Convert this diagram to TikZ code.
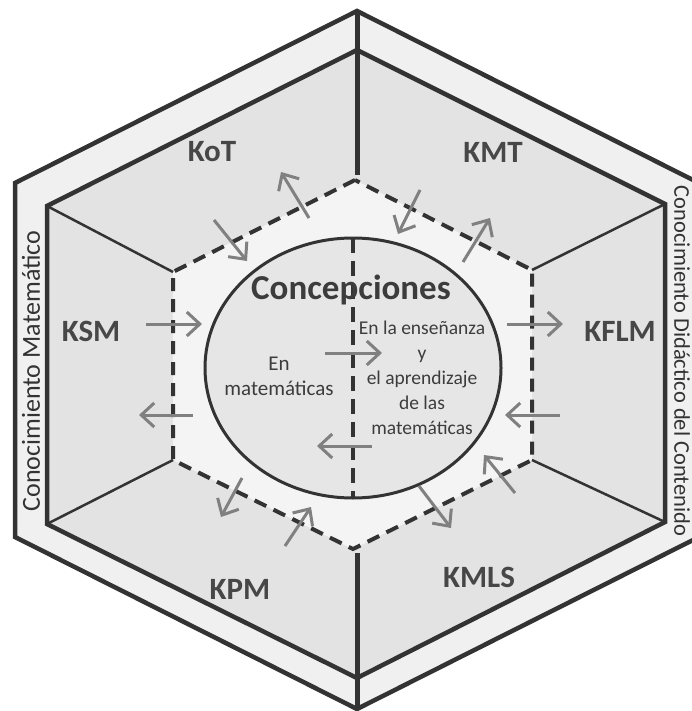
\documentclass[tikz,border=0pt]{standalone}
\usepackage{fontspec}
\setmainfont{Carlito}
\usetikzlibrary{arrows.meta}
\definecolor{ink}{HTML}{333333}
\definecolor{band}{HTML}{F0F0F0}
\definecolor{sector}{HTML}{E3E3E3}
\definecolor{core}{HTML}{F4F4F4}
\definecolor{disc}{HTML}{E6E6E6}
\definecolor{arrowgray}{HTML}{808080}
\definecolor{labelgray}{HTML}{474747}
\definecolor{textgray}{HTML}{3C3C3C}
\begin{document}
\begin{tikzpicture}[x=1pt,y=-1pt,
  frame/.style={draw=ink,line width=4.5pt,line join=miter},
  spoke/.style={draw=ink,line width=2.5pt},
  dashline/.style={draw=ink,line width=4pt,dash pattern=on 13pt off 8pt},
  flow/.style={draw=arrowgray,line width=3pt,-{Straight Barb[length=13pt,width=24pt,line width=3pt]}},
  area/.style={font=\fontsize{31}{36}\selectfont\bfseries,text=labelgray},
  side/.style={text=ink,inner sep=0pt},
  body/.style={font=\fontsize{19.5}{25}\selectfont,text=textgray,align=center,inner sep=0pt}]
\useasboundingbox (0,0) rectangle (692,711);
\fill[white] (0,0) rectangle (692,711);

% outer hexagon
\coordinate (oT) at (357,11);
\coordinate (oUL) at (15,183);
\coordinate (oLL) at (15,537);
\coordinate (oB) at (357,709);
\coordinate (oLR) at (699,537);
\coordinate (oUR) at (699,183);
% inner hexagon
\coordinate (iT) at (357,50);
\coordinate (iUL) at (47,206);
\coordinate (iLL) at (47,524);
\coordinate (iB) at (357,678);
\coordinate (iLR) at (665,522);
\coordinate (iUR) at (665,204);
% dashed hexagon
\coordinate (dT) at (355,180);
\coordinate (dUL) at (173,272);
\coordinate (dLL) at (173,460);
\coordinate (dB) at (353,549);
\coordinate (dLR) at (532,460);
\coordinate (dUR) at (532,270);

\filldraw[frame,fill=band] (oT) -- (oUL) -- (oLL) -- (oB) -- (oLR) -- (oUR) -- cycle;
\filldraw[frame,fill=sector] (iT) -- (iUL) -- (iLL) -- (iB) -- (iLR) -- (iUR) -- cycle;
\fill[core] (dT) -- (dUL) -- (dLL) -- (dB) -- (dLR) -- (dUR) -- cycle;
\draw[dashline] (dT) -- (dUL) -- (dLL) -- (dB) -- (dLR) -- (dUR) -- cycle;

% spokes joining the two hexagons
\coordinate (sT) at (357,175);
\coordinate (sB) at (357,553);
\draw[draw=ink,line width=5pt] (oT) -- (sT);
\draw[draw=ink,line width=5pt] (sB) -- (oB);
\draw[spoke] (dUL) -- (iUL);
\draw[spoke] (dLL) -- (iLL);
\draw[spoke] (dUR) -- (iUR);
\draw[spoke] (dLR) -- (iLR);

% central disc
\filldraw[fill=disc,draw=ink,line width=3pt] (353,368) ellipse [x radius=148,y radius=130];
\coordinate (cT) at (353,238);
\coordinate (cB) at (353,498);
\draw[dashline,dash pattern=on 15pt off 8pt] (cT) -- (cB);

% texts
\node[font=\fontsize{35}{40}\selectfont\bfseries,text=textgray] (conc) at (351,290) {Concepciones};
\node[body] (ens) at (422,378) {En la enseñanza\\y\\el aprendizaje\\de las\\matemáticas};
\node[body,font=\fontsize{21}{25}\selectfont] (mat) at (279,376) {En\\matemáticas};

\node[area] (kot) at (212,152) {KoT};
\node[area] (kmt) at (493,152) {KMT};
\node[area] (ksm) at (91,331) {KSM};
\node[area] (kflm) at (620,331) {KFLM};
\node[area] (kpm) at (240,589) {KPM};
\node[area] (kmls) at (479,577) {KMLS};

\node[side,rotate=90,font=\fontsize{26}{30}\selectfont] (cm) at (31,371) {Conocimiento Matemático};
\node[side,rotate=-90,font=\fontsize{22.5}{26}\selectfont] (cdc) at (682,361) {Conocimiento Didáctico del Contenido};

% exchange arrows
\coordinate (a1s) at (309,218); \coordinate (a1e) at (281,172);
\coordinate (a2s) at (214,220); \coordinate (a2e) at (247,261);
\coordinate (a3s) at (420,190); \coordinate (a3e) at (398,234);
\coordinate (a4s) at (463,262); \coordinate (a4e) at (490,218);
\coordinate (a5s) at (146,324); \coordinate (a5e) at (202,324);
\coordinate (a6s) at (193,415); \coordinate (a6e) at (139,415);
\coordinate (a7s) at (507,324); \coordinate (a7e) at (563,324);
\coordinate (a8s) at (560,415); \coordinate (a8e) at (505,415);
\coordinate (a9s) at (242,478); \coordinate (a9e) at (221,517);
\coordinate (a10s) at (285,546); \coordinate (a10e) at (311,507);
\coordinate (a11s) at (419,486); \coordinate (a11e) at (451,528);
\coordinate (a12s) at (515,493); \coordinate (a12e) at (484,455);
\coordinate (a13s) at (325,353); \coordinate (a13e) at (382,353);
\coordinate (a14s) at (372,446); \coordinate (a14e) at (317,446);
\foreach \i in {1,...,14} {\draw[flow] (a\i s) -- (a\i e);}
\end{tikzpicture}
\end{document}
